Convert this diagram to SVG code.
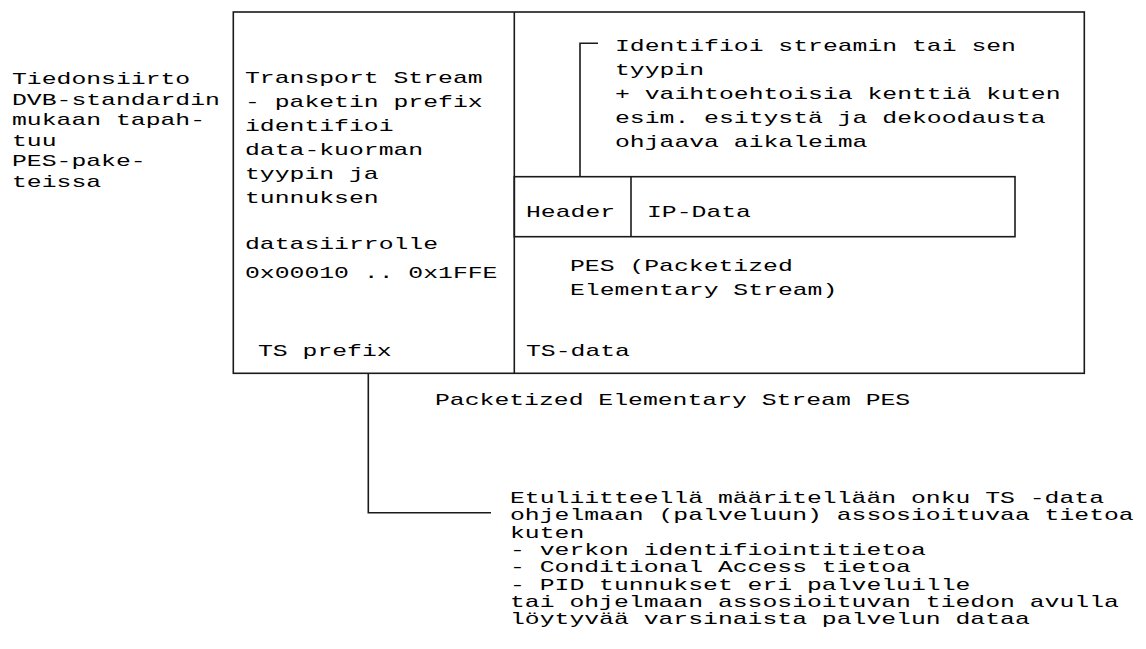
<svg xmlns="http://www.w3.org/2000/svg" width="1146" height="649" viewBox="0 0 1146 649">
<style>
  text { font-family: "Liberation Mono", "DejaVu Sans Mono", monospace; font-size: 17px; fill: #000; }
  .box { fill: none; stroke: #1a1a1a; stroke-width: 1.6; }
  .conn { fill: none; stroke: #1a1a1a; stroke-width: 1.6; }
</style>
<rect width="1146" height="649" fill="#fff"/>
<g id="left-note">
  <text x="12" y="84" textLength="178.2" lengthAdjust="spacingAndGlyphs">Tiedonsiirto</text>
  <text x="12" y="104.6" textLength="207.9" lengthAdjust="spacingAndGlyphs">DVB-standardin</text>
  <text x="12" y="125.2" textLength="193.05" lengthAdjust="spacingAndGlyphs">mukaan tapah-</text>
  <text x="12" y="145.8" textLength="44.55" lengthAdjust="spacingAndGlyphs">tuu</text>
  <text x="12" y="166.4" textLength="133.65" lengthAdjust="spacingAndGlyphs">PES-pake-</text>
  <text x="12" y="187" textLength="89.1" lengthAdjust="spacingAndGlyphs">teissa</text>
</g>
<g id="packet-frame">
  <rect class="box" x="233.3" y="12" width="851" height="361.3"/>
</g>
<g id="ts-prefix">
  <line class="box" x1="514.3" y1="12" x2="514.3" y2="373.3"/>
  <text x="245" y="83" textLength="237.6" lengthAdjust="spacingAndGlyphs">Transport Stream</text>
  <text x="245" y="107" textLength="237.6" lengthAdjust="spacingAndGlyphs">- paketin prefix</text>
  <text x="245" y="131" textLength="148.5" lengthAdjust="spacingAndGlyphs">identifioi</text>
  <text x="245" y="155" textLength="178.2" lengthAdjust="spacingAndGlyphs">data-kuorman</text>
  <text x="245" y="179" textLength="133.65" lengthAdjust="spacingAndGlyphs">tyypin ja</text>
  <text x="245" y="203" textLength="133.65" lengthAdjust="spacingAndGlyphs">tunnuksen</text>
  <text x="245" y="249" textLength="193.05" lengthAdjust="spacingAndGlyphs">datasiirrolle</text>
  <text x="245" y="278" textLength="252.45" lengthAdjust="spacingAndGlyphs">0x00010 .. 0x1FFE</text>
  <text x="258" y="356" textLength="133.65" lengthAdjust="spacingAndGlyphs">TS prefix</text>
</g>
<g id="ts-data">
  <text x="570" y="271" textLength="222.75" lengthAdjust="spacingAndGlyphs">PES (Packetized</text>
  <text x="570" y="295" textLength="267.3" lengthAdjust="spacingAndGlyphs">Elementary Stream)</text>
  <text x="526" y="356" textLength="103.95" lengthAdjust="spacingAndGlyphs">TS-data</text>
</g>
<g id="pes-header">
  <rect class="box" x="514.3" y="176.7" width="500.7" height="60"/>
  <line class="box" x1="631" y1="176.7" x2="631" y2="236.7"/>
  <text x="526" y="217" textLength="89.1" lengthAdjust="spacingAndGlyphs">Header</text>
</g>
<g id="ip-data">
  <text x="647" y="217" textLength="103.95" lengthAdjust="spacingAndGlyphs">IP-Data</text>
</g>
<g id="header-note">
  <text x="615" y="51" textLength="400.95" lengthAdjust="spacingAndGlyphs">Identifioi streamin tai sen</text>
  <text x="615" y="75" textLength="89.1" lengthAdjust="spacingAndGlyphs">tyypin</text>
  <text x="615" y="99" textLength="445.5" lengthAdjust="spacingAndGlyphs">+ vaihtoehtoisia kenttiä kuten</text>
  <text x="615" y="123" textLength="430.65" lengthAdjust="spacingAndGlyphs">esim. esitystä ja dekoodausta</text>
  <text x="615" y="147" textLength="252.45" lengthAdjust="spacingAndGlyphs">ohjaava aikaleima</text>
</g>
<g id="pes-caption">
  <text x="435" y="405" textLength="475.2" lengthAdjust="spacingAndGlyphs">Packetized Elementary Stream PES</text>
</g>
<g id="prefix-note">
  <text x="510" y="503" textLength="594" lengthAdjust="spacingAndGlyphs">Etuliitteellä määritellään onku TS -data</text>
  <text x="510" y="520.3" textLength="623.7" lengthAdjust="spacingAndGlyphs">ohjelmaan (palveluun) assosioituvaa tietoa</text>
  <text x="510" y="537.6" textLength="74.25" lengthAdjust="spacingAndGlyphs">kuten</text>
  <text x="510" y="554.9" textLength="415.8" lengthAdjust="spacingAndGlyphs">- verkon identifiointitietoa</text>
  <text x="510" y="572.2" textLength="400.95" lengthAdjust="spacingAndGlyphs">- Conditional Access tietoa</text>
  <text x="510" y="589.5" textLength="460.35" lengthAdjust="spacingAndGlyphs">- PID tunnukset eri palveluille</text>
  <text x="510" y="606.8" textLength="608.85" lengthAdjust="spacingAndGlyphs">tai ohjelmaan assosioituvan tiedon avulla</text>
  <text x="510" y="624.1" textLength="519.75" lengthAdjust="spacingAndGlyphs">löytyvää varsinaista palvelun dataa</text>
</g>
<g id="connectors">
  <polyline class="conn" points="580,176.7 580,43.3 598,43.3"/>
  <polyline class="conn" points="368.3,373.3 368.3,512.7 491,512.7"/>
</g>
</svg>
